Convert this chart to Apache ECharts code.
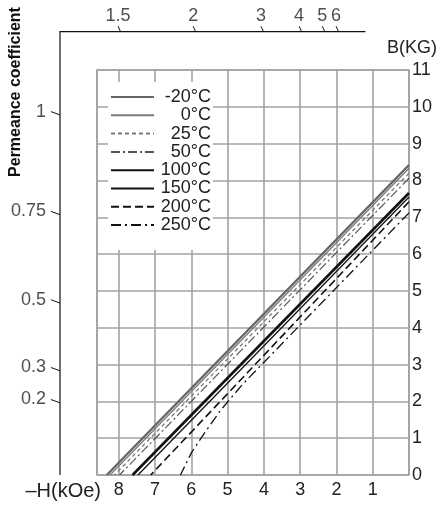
<!DOCTYPE html>
<html>
<head>
<meta charset="utf-8">
<title>Demagnetization curves</title>
<script src="https://cdn.jsdelivr.net/npm/echarts@6.0.0/dist/echarts.min.js"></script>
<style>
  html, body { margin: 0; padding: 0; background: #fff; }
  #main { width: 439px; height: 505px; }
</style>
</head>
<body>
<div id="main"></div>
<script>
// 温度曲线 [-H(kOe), B(kG)]
var temps = ['-20°C', '0°C', '25°C', '50°C', '100°C', '150°C', '200°C', '250°C'];
var curveM20 = [[0, 8.42], [8.33, 0]];
var curve0 = [[0, 8.33], [8.24, 0]];
var curve25 = [[0, 8.2], [8.12, 0]];
var curve50 = [[0, 8.06], [7.98, 0]];
var curve100 = [[0, 7.66], [7.62, 0]];
var curve150 = [[0, 7.55], [7.47, 0]];
var curve200 = [[0, 7.42], [7.12, 0]];
var curve250 = [[0, 7.12], [4.6, 2.45], [5.2, 1.75], [5.7, 1.05], [6.0, 0.6], [6.3, 0]];

// 坐标轴刻度
var hTicks = [1, 2, 3, 4, 5, 6, 7, 8];
var bTicks = [0, 1, 2, 3, 4, 5, 6, 7, 8, 9, 10, 11];

// 磁导系数刻度：上边框 (在 -H 处)，左边框 (在 B 处)
var pcTop = [1.5, 2, 3, 4, 5, 6];
var pcTopH = [7.95, 5.88, 4.01, 2.96, 2.32, 1.94];
var pcLeft = [1, 0.75, 0.5, 0.3, 0.2];
var pcLeftB = [9.78, 7.07, 4.67, 2.83, 1.96];

var H_MAX = 8.6;
var B_MAX = 11;
var FRAME_B = 12.04; // 上边框所在的 B
var FRAME_H = 9.62;  // 左边框所在的 H
var FRAME_H_END = 1.2;

var FONT = '"Liberation Sans", Arial, sans-serif';

function curveSeries(name, data, color, width, type) {
  return {
    name: name,
    type: 'line',
    data: data,
    symbol: 'none',
    color: color,
    lineStyle: { color: color, width: width, type: type || 'solid' },
    silent: true,
    z: 3,
  };
}

function buildPcTicks() {
  var lines = [];
  var topLabels = [];
  var leftLabels = [];
  pcTop.forEach(function (pc, i) {
    var h = pcTopH[i];
    var outer = [h + 0.07, FRAME_B + 0.15];
    lines.push({ coords: [[h, FRAME_B], outer] });
    topLabels.push([outer[0], outer[1], pc]);
  });
  pcLeft.forEach(function (pc, i) {
    var b = pcLeftB[i];
    var outer = [FRAME_H + 0.25, b + 0.09];
    lines.push({ coords: [[FRAME_H, b], outer] });
    leftLabels.push([outer[0], outer[1], pc]);
  });
  return { lines: lines, topLabels: topLabels, leftLabels: leftLabels };
}

function demagChart() {
  var myChart = echarts.init(document.getElementById('main'), null, { renderer: 'canvas' });
  var pcTicks = buildPcTicks();
  var gridColor = '#a3a3a3';

  var option = {
    animation: false,
    textStyle: { fontFamily: FONT },
    grid: {
      left: 97,
      right: 30,
      top: 70,
      bottom: 30,
      show: true,
      borderColor: gridColor,
      borderWidth: 1.6,
      backgroundColor: 'transparent',
    },
    legend: {
      orient: 'vertical',
      left: 108,
      top: 82,
      padding: [6, 2, 16, 2],
      backgroundColor: '#fff',
      itemWidth: 43,
      itemHeight: 14,
      itemGap: 0.3,
      data: temps,
      itemStyle: { opacity: 0 },
      formatter: '{a|{name}}',
      textStyle: {
        fontFamily: FONT,
        fontSize: 18,
        color: '#222',
        rich: {
          a: { width: 52, align: 'right', fontSize: 18, lineHeight: 18, fontFamily: FONT, color: '#222' },
        },
      },
    },
    xAxis: {
      type: 'value',
      inverse: true,
      min: 0,
      max: H_MAX,
      interval: 1,
      axisLine: { show: false },
      axisTick: { show: false },
      splitLine: { show: true, lineStyle: { color: gridColor, width: 1.6 } },
      axisLabel: {
        margin: 6,
        fontSize: 18,
        color: '#222',
        fontFamily: FONT,
        formatter: function (v) {
          return hTicks.indexOf(v) >= 0 ? String(v) : '';
        },
      },
    },
    yAxis: {
      type: 'value',
      position: 'right',
      min: 0,
      max: B_MAX,
      interval: 1,
      axisLine: { show: false },
      axisTick: { show: false },
      splitLine: { show: true, lineStyle: { color: gridColor, width: 1.6 } },
      axisLabel: {
        margin: 3,
        fontSize: 18,
        color: '#222',
        fontFamily: FONT,
        padding: [0, 0, 12, 0],
        showMaxLabel: true,
        formatter: function (v) {
          return bTicks.indexOf(v) >= 0 ? String(v) : '';
        },
      },
    },
    graphic: [
      {
        type: 'text',
        x: 16,
        y: 92,
        rotation: Math.PI / 2,
        style: {
          text: 'Permeance coefficient',
          font: 'bold 16px ' + FONT,
          fill: '#111',
          textAlign: 'center',
          textVerticalAlign: 'middle',
        },
      },
      {
        type: 'text',
        x: 412,
        y: 48,
        style: {
          text: 'B(KG)',
          font: '18px ' + FONT,
          fill: '#222',
          textAlign: 'center',
          textVerticalAlign: 'middle',
        },
      },
      {
        type: 'text',
        x: 101,
        y: 491,
        style: {
          text: '–H(kOe)',
          font: '20px ' + FONT,
          fill: '#222',
          textAlign: 'right',
          textVerticalAlign: 'middle',
        },
      },
    ],
    series: [
      curveSeries(temps[0], curveM20, '#666666', 2.4),
      curveSeries(temps[1], curve0, '#7a7a7a', 1.3),
      curveSeries(temps[2], curve25, '#7a7a7a', 1.3, [4, 3]),
      curveSeries(temps[3], curve50, '#555555', 1.2, [9, 3, 2, 3]),
      curveSeries(temps[4], curve100, '#111111', 2.6),
      curveSeries(temps[5], curve150, '#111111', 1.3),
      curveSeries(temps[6], curve200, '#111111', 1.6, [8, 4]),
      curveSeries(temps[7], curve250, '#111111', 1.3, [10, 4, 2, 4]),
      {
        // 磁导系数外框
        type: 'lines',
        coordinateSystem: 'cartesian2d',
        polyline: true,
        clip: false,
        silent: true,
        data: [{ coords: [[FRAME_H_END, FRAME_B], [FRAME_H, FRAME_B], [FRAME_H, 0]] }],
        lineStyle: { color: '#111', width: 1.2, opacity: 1 },
      },
      {
        type: 'lines',
        coordinateSystem: 'cartesian2d',
        data: pcTicks.lines,
        clip: false,
        silent: true,
        lineStyle: { color: '#111', width: 1, opacity: 1 },
      },
      {
        type: 'scatter',
        data: pcTicks.topLabels,
        symbolSize: 0,
        clip: false,
        silent: true,
        label: {
          show: true,
          position: 'top',
          distance: 1,
          fontSize: 18,
          color: '#222',
          fontFamily: FONT,
          formatter: function (p) { return String(p.value[2]); },
        },
      },
      {
        type: 'scatter',
        data: pcTicks.leftLabels,
        symbolSize: 0,
        clip: false,
        silent: true,
        label: {
          show: true,
          position: 'left',
          distance: 5,
          fontSize: 18,
          color: '#222',
          fontFamily: FONT,
          formatter: function (p) { return String(p.value[2]); },
        },
      },
    ],
  };

  option && myChart.setOption(option);
  window.addEventListener('resize', function () {
    myChart.resize();
  });
}

demagChart();
</script>
</body>
</html>
